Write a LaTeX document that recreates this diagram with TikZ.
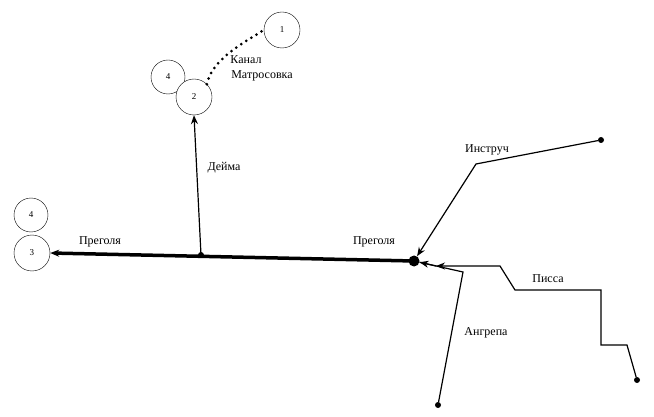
\documentclass[tikz,border=0pt]{standalone}
\usepackage{fontspec}
\setmainfont{Liberation Serif}
\usetikzlibrary{arrows.meta}
\begin{document}
\begin{tikzpicture}[x=1pt,y=-1pt,
  lake/.style={circle,draw,fill=white,minimum size=36pt,inner sep=0pt,font=\fontsize{9}{10}\selectfont},
  lbl/.style={font=\fontsize{12}{13}\selectfont,inner sep=1pt},
  dotn/.style={circle,fill,inner sep=0pt,minimum size=6pt},
  riv/.style={line width=1.2pt},
  arr/.style={-{Stealth[length=9pt,width=7pt]}}]
\useasboundingbox (0,0) rectangle (654,417);
\node[lake] (c1) at (282,30) {1};
\node[lake,minimum size=34pt] (c4a) at (168,77) {4};
\node[lake] (c2) at (194,97) {2};
\node[lake,minimum size=34pt] (c4b) at (31,215) {4};
\node[lake] (c3) at (32,253) {3};
\node[circle,fill,inner sep=0pt,minimum size=11pt] (j) at (414,261) {};
\node[dotn] (d) at (201,255) {};
\node[dotn] (ie) at (601,140) {};
\node[dotn] (pe) at (637,380) {};
\node[dotn] (ae) at (438,405) {};
\coordinate (i1) at (476,164);
\coordinate (p1) at (627,345);
\coordinate (p2) at (601,345);
\coordinate (p3) at (601,290);
\coordinate (p4) at (515,290);
\coordinate (p5) at (500,266);
\coordinate (a1) at (463,272);
\draw[line width=3.5pt,arr] (j.center) -- (c3.east);
\draw[riv,arr] (d.center) -- (c2.south);
\draw[riv,arr] (ie) -- (i1) -- (j);
\draw[riv,arr] (pe) -- (p1) -- (p2) -- (p3) -- (p4) -- (p5) -- (436,266);
\draw[riv] (436,266) -- (j);
\draw[riv,arr] (ae) -- (a1) -- (j);
\draw[line width=3pt,dash pattern=on 0pt off 6pt,line cap=round] (c2.north east) .. controls (212,60) and (240,45) .. (c1.west);
\node[lbl] at (246,60) {Канал};
\node[lbl] at (262,76) {Матросовка};
\node[lbl] at (224,168) {Дейма};
\node[lbl] at (487,150) {Инструч};
\node[lbl] at (548,279) {Писса};
\node[lbl] at (486,333) {Ангрепа};
\node[lbl] at (100,242) {Преголя};
\node[lbl] at (374,242) {Преголя};
\end{tikzpicture}
\end{document}
